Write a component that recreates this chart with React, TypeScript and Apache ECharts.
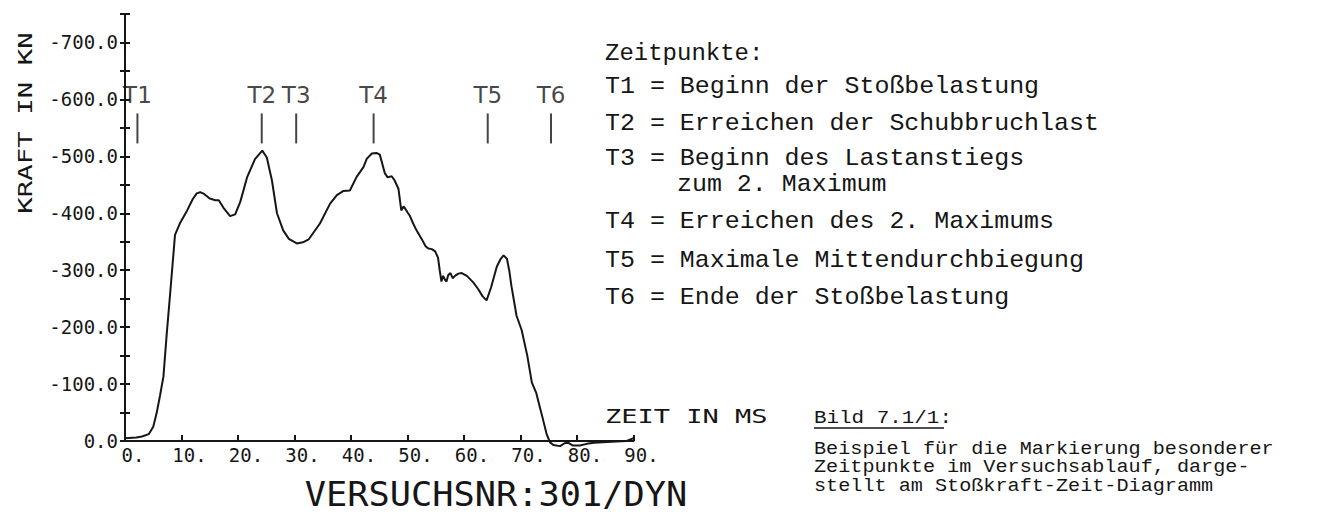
import React, { useEffect, useRef } from 'react';
import * as echarts from 'echarts';

// Impact force vs. time (force negative = compression)
const TIME = [
  0, 2, 3, 4.2, 5.0, 5.6, 6.2, 6.8, 7.4, 8.0, 8.5, 8.85, 9.7, 11.0, 12.0, 12.7, 13.3, 14.0, 15.0, 16.0,
  16.6, 17.4, 18.6, 19.5, 20.4, 21.6, 23.0, 24.3, 25.1, 26.0, 26.9, 28.0, 29.0, 30.4, 31.5, 32.5, 33.5, 34.5,
  36.3, 37.5, 38.6, 39.8, 41.0, 42.2, 42.8, 43.7, 44.5, 45.1, 46.0, 46.5, 47.2, 47.7, 48.4, 48.9, 49.3, 49.6,
  50.1, 50.4, 51.0, 51.6, 52.5, 53.2, 53.7, 54.3, 54.9, 55.4, 55.7, 56.0, 56.3, 56.6, 56.9, 57.2, 57.6, 58.0,
  58.4, 59.0, 59.6, 60.5, 61.6, 62.5, 63.3, 64.0, 64.8, 65.8, 66.5, 67.0, 67.6, 68.0, 68.4, 69.3, 70.2, 71.2,
  72.0, 72.8, 73.8, 74.6, 75.2, 75.8, 77.0, 77.8, 78.4, 79.3, 80.5, 81.7, 83.0, 84.6, 87.0, 88.8, 90.0,
];
const FORCE = [
  -5, -6, -8, -12, -25, -49, -80, -113, -190, -260, -320, -362, -382, -405, -425, -435, -437, -434, -426, -423,
  -423, -410, -395, -398, -420, -463, -495, -510, -498, -458, -400, -370, -355, -347, -349, -354, -368, -382,
  -417, -432, -439, -440, -464, -481, -496, -505, -506, -503, -470, -463, -465, -458, -443, -405, -412, -408,
  -400, -396, -382, -370, -355, -342, -338, -337, -333, -322, -300, -280, -290, -284, -280, -291, -295, -286,
  -290, -294, -295, -290, -279, -267, -254, -247, -270, -306, -320, -326, -320, -300, -272, -220, -195, -150,
  -103, -84, -45, -13, 2, 7, 9, 4, 3, 8, 8, 5, 3, 2, 1, 0, -5,
];

// Marked time points
const MARK_NAMES = ['T1', 'T2', 'T3', 'T4', 'T5', 'T6'];
const MARK_TIMES = [2.2, 24.2, 30.3, 44.0, 64.2, 75.4];
const MARK_LEVEL = -549;

const Y_TICK_STEP = 100;
const LEGEND_TITLE = 'Zeitpunkte:';
const LEGEND_LINES = [
  'T1 = Beginn der Stoßbelastung',
  'T2 = Erreichen der Schubbruchlast',
  'T3 = Beginn des Lastanstiegs',
  'zum 2. Maximum',
  'T4 = Erreichen des 2. Maximums',
  'T5 = Maximale Mittendurchbiegung',
  'T6 = Ende der Stoßbelastung',
];
const CAPTION_TITLE = 'Bild 7.1/1:';
const CAPTION_LINES = [
  'Beispiel für die Markierung besonderer',
  'Zeitpunkte im Versuchsablauf, darge-',
  'stellt am Stoßkraft-Zeit-Diagramm',
];
const Y_NAME = 'KRAFT IN KN';
const X_NAME = 'ZEIT IN MS';
const TITLE = 'VERSUCHSNR:301/DYN';

const INK = '#161616';
const PLOT_FONT = '"DejaVu Sans Mono", monospace';
const TYPE_FONT = '"Liberation Mono", "Courier New", monospace';

export default function App() {
  const ref = useRef<HTMLDivElement>(null);
  useEffect(() => {
    const chart = echarts.init(ref.current as HTMLDivElement, null, { renderer: 'svg' });
    const yBase = {
      type: 'value' as const,
      inverse: true,
      min: -750,
      max: 0,
      interval: 50,
      position: 'left' as const,
      splitLine: { show: false },
    };
    const legendY = [87, 124, 159, 185, 222, 261, 298];
    const legendX = [605, 605, 605, 677, 605, 605, 605];
    const graphic: any[] = [
      {
        type: 'text', x: 25, y: 123, rotation: Math.PI / 2, scaleX: 1.37,
        style: { text: Y_NAME, fontFamily: PLOT_FONT, fontSize: 20, fill: INK, align: 'center', verticalAlign: 'middle' },
      },
      {
        type: 'text', x: 605, y: 416, scaleX: 1.35,
        style: { text: X_NAME, fontFamily: PLOT_FONT, fontSize: 20, fill: INK, align: 'left', verticalAlign: 'middle' },
      },
      {
        type: 'text', x: 496, y: 494, scaleX: 1.07,
        style: { text: TITLE, fontFamily: PLOT_FONT, fontSize: 33, fill: INK, align: 'center', verticalAlign: 'middle' },
      },
      {
        type: 'text', x: 605, y: 53,
        style: { text: LEGEND_TITLE, fontFamily: TYPE_FONT, fontSize: 24, fill: INK, align: 'left', verticalAlign: 'middle' },
      },
      ...LEGEND_LINES.map((t, i) => ({
        type: 'text', x: legendX[i], y: legendY[i], scaleX: 1.04,
        style: { text: t, fontFamily: TYPE_FONT, fontSize: 24, fill: INK, align: 'left', verticalAlign: 'middle' },
      })),
      {
        type: 'text', x: 814, y: 418, scaleX: 1.1,
        style: { text: CAPTION_TITLE, fontFamily: TYPE_FONT, fontSize: 19, fill: INK, align: 'left', verticalAlign: 'middle' },
      },
      {
        type: 'line', shape: { x1: 814, y1: 428, x2: 944, y2: 428 },
        style: { stroke: INK, lineWidth: 1.5 },
      },
      ...CAPTION_LINES.map((t, i) => ({
        type: 'text', x: 814, y: 449 + i * 18.5, scaleX: 1.12,
        style: { text: t, fontFamily: TYPE_FONT, fontSize: 18, fill: INK, align: 'left', verticalAlign: 'middle' },
      })),
    ];

    chart.setOption({
      animation: false,
      backgroundColor: '#ffffff',
      grid: { left: 125, right: 707.5, top: 14, bottom: 74, containLabel: false },
      xAxis: {
        type: 'value',
        min: 0,
        max: 90,
        interval: 10,
        splitLine: { show: false },
        axisLine: { show: true, lineStyle: { color: INK, width: 2 } },
        axisTick: { show: true, inside: true, length: 6, lineStyle: { color: INK, width: 2 } },
        axisLabel: {
          formatter: (v: number) => `${v}.`,
          fontFamily: PLOT_FONT,
          fontSize: 19,
          color: INK,
          margin: 4,
          padding: [0, 0, 0, 16],
        },
      },
      yAxis: [
        {
          ...yBase,
          axisLine: { show: true, onZero: false, lineStyle: { color: INK, width: 2 } },
          axisTick: { show: true, length: 5, lineStyle: { color: INK, width: 2 } },
          axisLabel: {
            formatter: (v: number) => (v % Y_TICK_STEP === 0 ? (v === 0 ? 0 : v).toFixed(1) : ''),
            fontFamily: PLOT_FONT,
            fontSize: 19,
            color: INK,
            margin: 7,
          },
        },
        {
          ...yBase,
          axisLine: { show: false, onZero: false },
          axisTick: { show: true, inside: true, length: 5, lineStyle: { color: INK, width: 2 } },
          axisLabel: { show: false },
        },
      ],
      series: [
        {
          type: 'line',
          data: TIME.map((t, i) => [t, FORCE[i]]),
          symbol: 'none',
          showSymbol: false,
          clip: false,
          lineStyle: { color: INK, width: 2 },
          z: 3,
        },
        {
          type: 'scatter',
          data: MARK_TIMES.map((t) => [t, MARK_LEVEL]),
          symbol: 'rect',
          symbolSize: [2, 30],
          itemStyle: { color: INK },
          label: {
            show: true,
            position: 'top',
            distance: 7,
            formatter: (p: any) => MARK_NAMES[p.dataIndex],
            fontFamily: '"DejaVu Sans", sans-serif',
            fontSize: 23,
            color: INK,
          },
        },
      ],
      graphic,
    });
    return () => chart.dispose();
  }, []);
  return (
    <div
      ref={ref}
      style={{ position: 'fixed', left: 0, top: 0, width: 1341, height: 515, background: '#fff' }}
    />
  );
}
